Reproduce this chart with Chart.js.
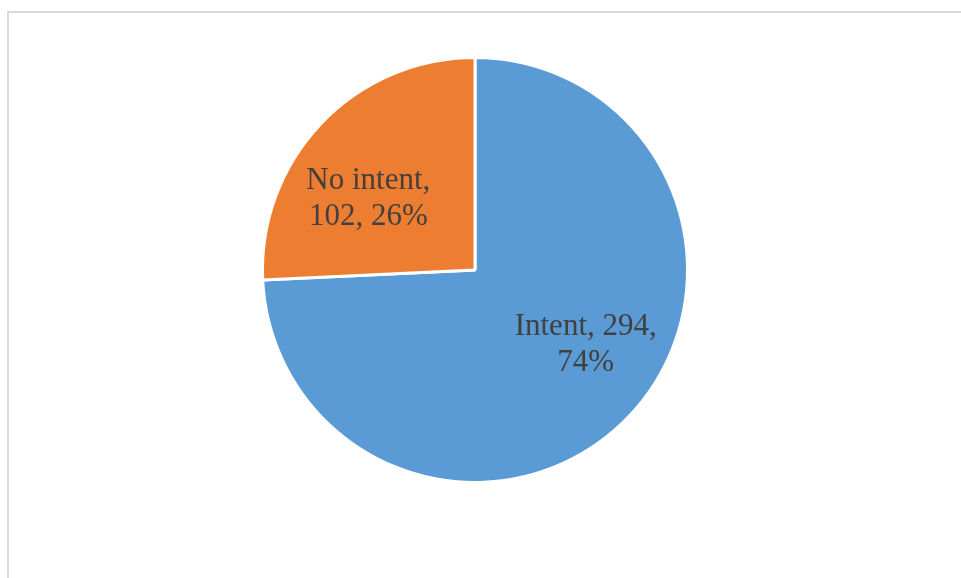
<!DOCTYPE html>
<html>
<head>
<meta charset="utf-8">
<script src="https://cdn.jsdelivr.net/npm/chart.js@4.4.0/dist/chart.umd.min.js"></script>
<style>
  html, body { margin: 0; padding: 0; background: #ffffff; overflow: hidden; }
  #wrap { position: relative; width: 961px; height: 578px; }
  #frame { position: absolute; left: 7px; top: 11px; width: 1000px; height: 600px;
           border-top: 2px solid #d9d9d9; border-left: 2px solid #d9d9d9; box-sizing: border-box; }
  canvas { position: absolute; left: 0; top: 0; }
</style>
</head>
<body>
<div id="wrap">
  <div id="frame"></div>
  <canvas id="c" width="961" height="578"></canvas>
</div>
<script>
const categories = ["Intent", "No intent"];
const values = [294, 102];
const colors = ["#5B9BD5", "#ED7D31"];
// label anchor offsets as fractions of the pie radius (dx, dy of first line baseline)
const labelOffsets = [[0.521, 0.308], [-0.502, -0.379]];
// line breaks used by each label
const labelLines = [
  (c, v, p) => [c + ", " + v + ",", p + "%"],
  (c, v, p) => [c + ",", v + ", " + p + "%"]
];

const total = values.reduce((a, b) => a + b, 0);

const labelPlugin = {
  id: 'pieLabels',
  afterDatasetsDraw(chart) {
    const ctx = chart.ctx;
    const meta = chart.getDatasetMeta(0);
    ctx.save();
    ctx.font = '31px "Liberation Serif", "Times New Roman", serif';
    ctx.fillStyle = '#404040';
    ctx.textAlign = 'center';
    ctx.textBaseline = 'alphabetic';
    meta.data.forEach((arc, i) => {
      const r = arc.outerRadius;
      const x = arc.x + labelOffsets[i][0] * r;
      const y = arc.y + labelOffsets[i][1] * r;
      const pct = Math.round(values[i] / total * 100);
      const lines = labelLines[i](categories[i], values[i], pct);
      lines.forEach((t, k) => ctx.fillText(t, x, y + k * 36));
    });
    ctx.restore();
  }
};

new Chart(document.getElementById('c'), {
  type: 'pie',
  data: {
    labels: categories,
    datasets: [{
      data: values,
      backgroundColor: colors,
      borderColor: '#ffffff',
      borderWidth: 3
    }]
  },
  options: {
    responsive: false,
    animation: false,
    layout: { padding: { left: 261, right: 272, top: 56, bottom: 94 } },
    plugins: {
      legend: { display: false },
      tooltip: { enabled: false }
    }
  },
  plugins: [labelPlugin]
});
</script>
</body>
</html>
